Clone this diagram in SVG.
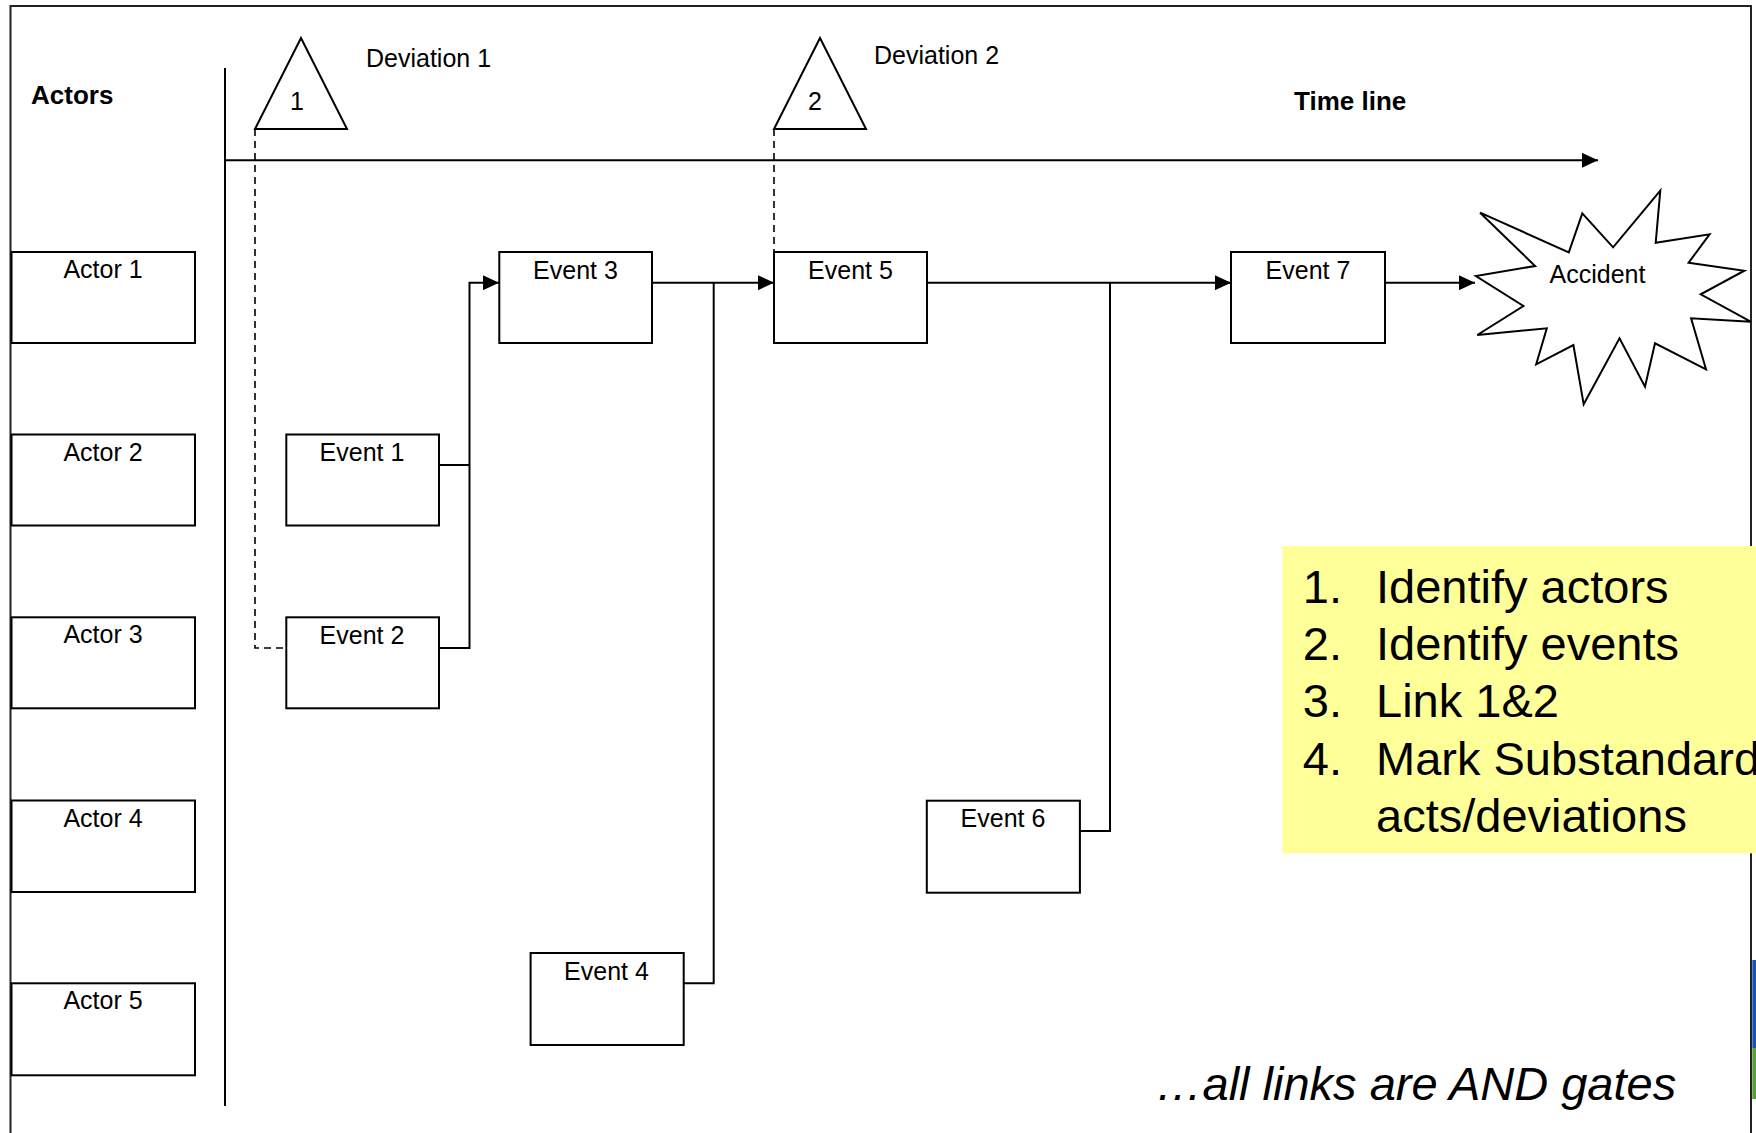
<svg xmlns="http://www.w3.org/2000/svg" width="1756" height="1133" viewBox="0 0 1756 1133">
  <style>
    .box { fill: #ffffff; stroke: #000000; stroke-width: 2; }
    .line { fill: none; stroke: #000000; stroke-width: 2; }
    .dash { fill: none; stroke: #000000; stroke-width: 1.6; stroke-dasharray: 7 5; }
    .lbl { font-family: "Liberation Sans", Arial, sans-serif; font-size: 25px; fill: #000000; }
    .mid { text-anchor: middle; }
    .bold { font-weight: bold; font-size: 26px; }
    .big { font-family: "Liberation Sans", Arial, sans-serif; font-size: 47px; fill: #000000; }
  </style>
  <defs>
    <marker id="arrow" markerUnits="userSpaceOnUse" markerWidth="16" markerHeight="15" refX="16" refY="7.5" orient="auto">
      <path d="M0,0 L16,7.5 L0,15 Z" fill="#000000"/>
    </marker>
  </defs>

  <rect width="1756" height="1133" fill="#ffffff"/>

  <!-- page frame (open at the bottom) -->
  <path d="M10.5,1133 V6 H1751 V1133" fill="none" stroke="#222222" stroke-width="2"/>

  <!-- headings -->
  <text class="lbl bold" x="31" y="104">Actors</text>
  <text class="lbl bold" x="1294" y="110">Time line</text>

  <!-- actor column divider -->
  <line class="line" x1="225" y1="68" x2="225" y2="1106"/>

  <!-- connectors -->
  <g id="connectors">
    <path class="line" d="M225,160.3 H1598" marker-end="url(#arrow)"/>
    <path class="dash" d="M255,129 V648 H286"/>
    <path class="dash" d="M774,129 V252"/>
    <path class="line" d="M439,465 H469.5"/>
    <path class="line" d="M439,648 H469.5 V282.7 H499" marker-end="url(#arrow)"/>
    <path class="line" d="M652,282.7 H774" marker-end="url(#arrow)"/>
    <path class="line" d="M683.7,983.3 H713.7 V282.7"/>
    <path class="line" d="M927,282.7 H1231" marker-end="url(#arrow)"/>
    <path class="line" d="M1080,831 H1110 V282.7"/>
    <path class="line" d="M1385,282.7 H1475" marker-end="url(#arrow)"/>
  </g>

  <!-- deviations -->
  <g id="deviation1">
    <polygon class="box" points="301,38 255,129 347,129"/>
    <text class="lbl mid" x="297" y="110">1</text>
    <text class="lbl" x="366" y="67">Deviation 1</text>
  </g>
  <g id="deviation2">
    <polygon class="box" points="820,38 774,129 866,129"/>
    <text class="lbl mid" x="815" y="110">2</text>
    <text class="lbl" x="874" y="64">Deviation 2</text>
  </g>

  <!-- actors -->
  <g id="actor1">
    <rect class="box" x="11.5" y="252" width="183.5" height="91"/>
    <text class="lbl mid" x="103" y="278">Actor 1</text>
  </g>
  <g id="actor2">
    <rect class="box" x="11.5" y="434.5" width="183.5" height="91"/>
    <text class="lbl mid" x="103" y="460.5">Actor 2</text>
  </g>
  <g id="actor3">
    <rect class="box" x="11.5" y="617.3" width="183.5" height="91"/>
    <text class="lbl mid" x="103" y="643.3">Actor 3</text>
  </g>
  <g id="actor4">
    <rect class="box" x="11.5" y="800.5" width="183.5" height="91.5"/>
    <text class="lbl mid" x="103" y="826.5">Actor 4</text>
  </g>
  <g id="actor5">
    <rect class="box" x="11.5" y="983.3" width="183.5" height="92"/>
    <text class="lbl mid" x="103" y="1009.3">Actor 5</text>
  </g>

  <!-- events -->
  <g id="event1">
    <rect class="box" x="286.3" y="434.5" width="152.7" height="91"/>
    <text class="lbl mid" x="362" y="461">Event 1</text>
  </g>
  <g id="event2">
    <rect class="box" x="286.3" y="617.3" width="152.7" height="91"/>
    <text class="lbl mid" x="362" y="643.8">Event 2</text>
  </g>
  <g id="event3">
    <rect class="box" x="499.3" y="252" width="152.7" height="91"/>
    <text class="lbl mid" x="575.5" y="278.5">Event 3</text>
  </g>
  <g id="event4">
    <rect class="box" x="530.6" y="953" width="153.1" height="92"/>
    <text class="lbl mid" x="606.5" y="979.5">Event 4</text>
  </g>
  <g id="event5">
    <rect class="box" x="774" y="252" width="153" height="91"/>
    <text class="lbl mid" x="850.5" y="278.5">Event 5</text>
  </g>
  <g id="event6">
    <rect class="box" x="926.8" y="800.7" width="153.1" height="92"/>
    <text class="lbl mid" x="1003" y="827">Event 6</text>
  </g>
  <g id="event7">
    <rect class="box" x="1231" y="252" width="154" height="91"/>
    <text class="lbl mid" x="1308" y="278.5">Event 7</text>
  </g>

  <!-- outcome -->
  <g id="accident">
    <polygon class="box" points="1480.1,212.7 1568.8,252.3 1582.3,213.3 1613.1,247.3 1660.3,190.7 1655.7,242.7 1709.6,234.3 1688.6,262.7 1744.3,270.7 1700.7,294.3 1750.7,321.7 1691.1,318.3 1706,369.3 1655,343.3 1645,386.7 1619.5,338.3 1583.7,404.3 1573.4,345 1536.2,364.3 1546.8,328.3 1477.3,335 1523.4,306 1475.9,276 1535.1,266"/>
    <text class="lbl mid" x="1597.5" y="283">Accident</text>
  </g>

  <!-- steps note -->
  <g id="steps">
    <rect x="1282.5" y="546" width="480" height="307.3" fill="#ffff99"/>
    <text class="big" x="1302.8" y="602.5">1.</text>
    <text class="big" x="1376" y="602.5">Identify actors</text>
    <text class="big" x="1302.8" y="660">2.</text>
    <text class="big" x="1376" y="660">Identify events</text>
    <text class="big" x="1302.8" y="717.4">3.</text>
    <text class="big" x="1376" y="717.4">Link 1&amp;2</text>
    <text class="big" x="1302.8" y="774.8">4.</text>
    <text class="big" x="1376" y="774.8">Mark Substandard</text>
    <text class="big" x="1376" y="832.2">acts/deviations</text>
  </g>

  <text class="big" x="1155.5" y="1100" font-style="italic">…all links are AND gates</text>

  <!-- sliver of an emblem at the right edge -->
  <rect x="1752.3" y="960" width="4" height="88" fill="#1a55b0"/>
  <rect x="1752.3" y="1048" width="4" height="51" fill="#5a9e3a"/>
</svg>
